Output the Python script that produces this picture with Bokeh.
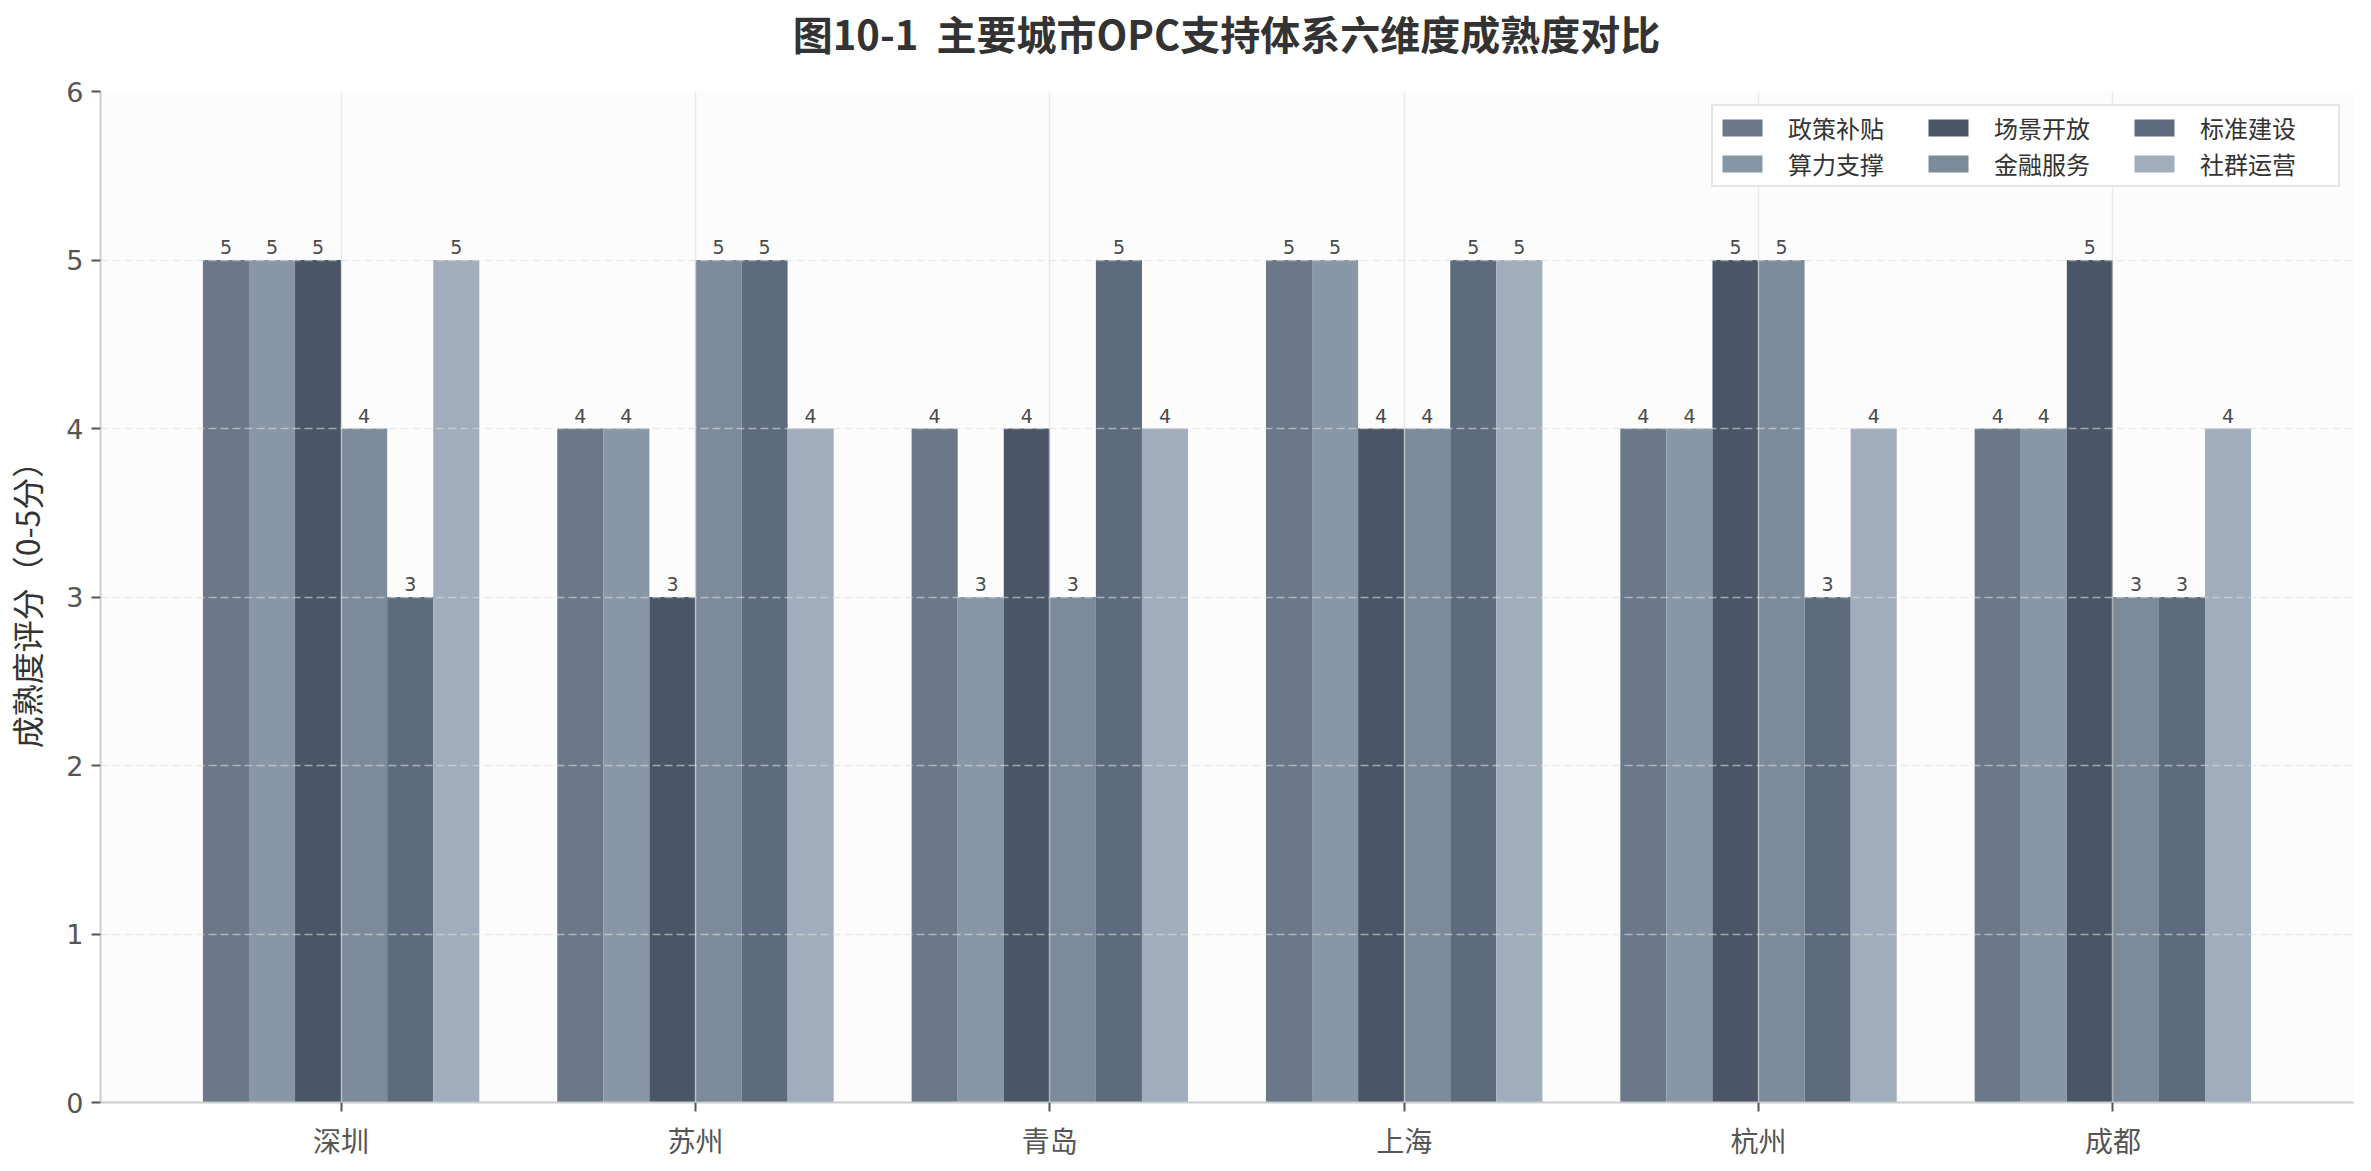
from bokeh.plotting import figure
from bokeh.models import ColumnDataSource, Range1d, FixedTicker, Div
from bokeh.layouts import column
from bokeh.embed import file_html
from bokeh.resources import INLINE
from bokeh.core.properties import value

cities = ["深圳", "苏州", "青岛", "上海", "杭州", "成都"]
dims = ["政策补贴", "算力支撑", "场景开放", "金融服务", "标准建设", "社群运营"]
policy = [5, 4, 4, 5, 4, 4]
compute = [5, 4, 3, 5, 4, 4]
scene = [5, 3, 4, 4, 5, 5]
finance = [4, 5, 3, 4, 5, 3]
standard = [3, 5, 5, 5, 3, 3]
community = [5, 4, 4, 5, 4, 4]
series = [policy, compute, scene, finance, standard, community]
colors = ["#6a788a", "#8797a7", "#4a5567", "#7c8b9c", "#5c6b7d", "#a1adbd"]
y_ticks = [0, 1, 2, 3, 4, 5, 6]
title_text = "图10-1\u00a0\u00a0主要城市OPC支持体系六维度成熟度对比"

CJK = "'Noto Sans CJK SC', 'DejaVu Sans', sans-serif"
NUM = "'DejaVu Sans', 'Noto Sans CJK SC', sans-serif"

bar_w = 0.13
n = len(dims)
idx = list(range(len(cities)))

x_range = Range1d(-0.679, 5.679)
y_range = Range1d(0, 6)
p = figure(frame_width=2253, frame_height=1011, output_backend="svg", toolbar_location=None,
           x_range=x_range, y_range=y_range,
           min_border_left=100, min_border_right=18, min_border_top=20, min_border_bottom=69)
p.background_fill_color = "#fcfcfc"
p.border_fill_color = "white"
p.outline_line_color = None

for j, (name, vals, col) in enumerate(zip(dims, series, colors)):
    off = (j - (n - 1) / 2) * bar_w
    src = ColumnDataSource(dict(x=[i + off for i in idx], top=vals,
                                lab=[str(v) for v in vals]))
    p.vbar(x="x", top="top", width=bar_w, bottom=0, source=src,
           fill_color=col, line_color=None, legend_label=name)
    p.text(x="x", y="top", text="lab", source=src, text_align="center",
           text_baseline="bottom", y_offset=-6, text_font=value(NUM),
           text_font_size="19px", text_color="#4a4a4a")

# axes
p.xaxis.ticker = FixedTicker(ticks=idx)
p.xaxis.major_label_overrides = {i: c for i, c in enumerate(cities)}
p.yaxis.ticker = FixedTicker(ticks=y_ticks)
for ax in (p.xaxis, p.yaxis):
    ax.axis_line_color = "#cccccc"
    ax.axis_line_width = 2
    ax.major_tick_line_color = "#555555"
    ax.major_tick_line_width = 2
    ax.major_tick_out = 9
    ax.major_tick_in = 0
    ax.minor_tick_line_color = None
    ax.major_label_text_color = "#555555"
    ax.major_label_standoff = 8
p.xaxis.major_label_text_font = CJK
p.xaxis.major_label_text_font_size = "28px"
p.yaxis.major_label_text_font = NUM
p.yaxis.major_label_text_font_size = "27px"
p.yaxis.axis_label = "成熟度评分（0-5分）"
p.yaxis.axis_label_text_font = CJK
p.yaxis.axis_label_text_font_size = "32px"
p.yaxis.axis_label_text_font_style = "normal"
p.yaxis.axis_label_text_color = "#333333"
p.yaxis.axis_label_standoff = 14

# grids
p.ygrid.grid_line_color = "#dddddd"
p.ygrid.grid_line_alpha = 0.6
p.ygrid.grid_line_dash = "8 4"
p.ygrid.grid_line_width = 1.5
p.ygrid.level = "annotation"
p.xgrid.grid_line_color = "#dddddd"
p.xgrid.grid_line_alpha = 0.6
p.xgrid.grid_line_width = 1.5
p.xgrid.level = "annotation"

# legend
lg = p.legend[0]
lg.location = "top_right"
lg.orientation = "vertical"
lg.nrows = 2
lg.margin = 13
lg.padding = 4
lg.spacing = 1
lg.glyph_width = 50
lg.glyph_height = 21
lg.label_standoff = 21
lg.label_width = 134
lg.label_height = 20
lg.label_text_font = CJK
lg.label_text_font_size = "24px"
lg.label_text_color = "#333333"
lg.border_line_color = "#cccccc"
lg.border_line_width = 2
lg.background_fill_color = "white"
lg.background_fill_alpha = 0.9

# title, centred over the plotting frame
title = Div(text=title_text, width=2253, height=71, margin=(0, 0, 0, 100),
            styles={"font-family": CJK, "font-size": "40px", "font-weight": "bold",
                    "color": "#333333", "text-align": "center", "line-height": "66px",
                    "white-space": "nowrap"})

layout = column(title, p, spacing=0)
open("out.html", "w").write(file_html(layout, INLINE))
